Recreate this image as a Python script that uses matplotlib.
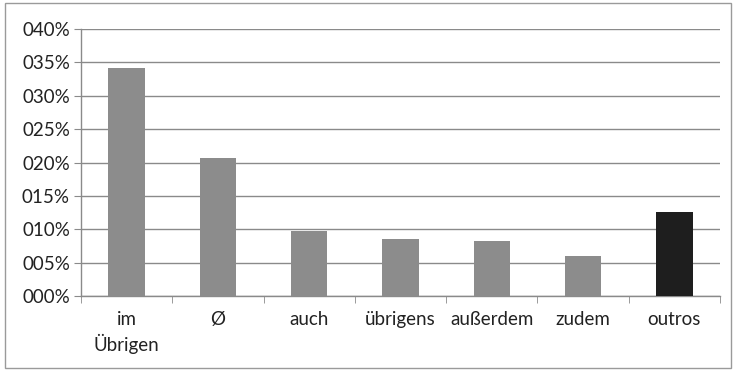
import matplotlib
matplotlib.use("Agg")
import matplotlib.pyplot as plt
from matplotlib.patches import Rectangle

categories = ["im\nÜbrigen", "Ø", "auch", "übrigens", "außerdem", "zudem", "outros"]
values = [0.342, 0.206, 0.097, 0.086, 0.083, 0.060, 0.126]
bar_colors = ["#8c8c8c"] * 6 + ["#1e1e1e"]
y_ticks = [0.00, 0.05, 0.10, 0.15, 0.20, 0.25, 0.30, 0.35, 0.40]
y_labels = ["000%", "005%", "010%", "015%", "020%", "025%", "030%", "035%", "040%"]

plt.rcParams["font.family"] = ["Lato", "DejaVu Sans"]

fig = plt.figure(figsize=(7.35, 3.71), dpi=100)
ax = fig.add_axes([81 / 735, 1 - 296 / 371, (720 - 81) / 735, (296 - 29) / 371])

x = list(range(len(categories)))
ax.bar(x, values, width=0.4, color=bar_colors, zorder=3)

ax.set_xlim(-0.5, len(categories) - 0.5)
ax.set_ylim(0, 0.40)
ax.set_yticks(y_ticks)
ax.set_yticklabels(y_labels, fontsize=13.5, color="#222222")
ax.yaxis.grid(True, color="#8a8a8a", linewidth=1.0, zorder=0)

ax.set_xticks(x)
ax.set_xticklabels(categories, fontsize=13.5, color="#222222", linespacing=1.3)
ax.tick_params(axis="x", length=0, pad=11)
ax.set_xticks([i - 0.5 for i in range(len(categories) + 1)], minor=True)
ax.tick_params(axis="x", which="minor", length=5, color="#8a8a8a", direction="out")
ax.tick_params(axis="y", length=5, color="#8a8a8a", direction="out", pad=3)

for side in ["top", "right"]:
    ax.spines[side].set_visible(False)
for side in ["left", "bottom"]:
    ax.spines[side].set_color("#8a8a8a")
    ax.spines[side].set_linewidth(1.0)

# outer frame around the chart area
fig.patches.append(Rectangle((5 / 735, 3 / 371), 726 / 735, 365 / 371,
                             transform=fig.transFigure, fill=False,
                             edgecolor="#9a9a9a", linewidth=1.0))

fig.savefig("out.png", dpi=100)
